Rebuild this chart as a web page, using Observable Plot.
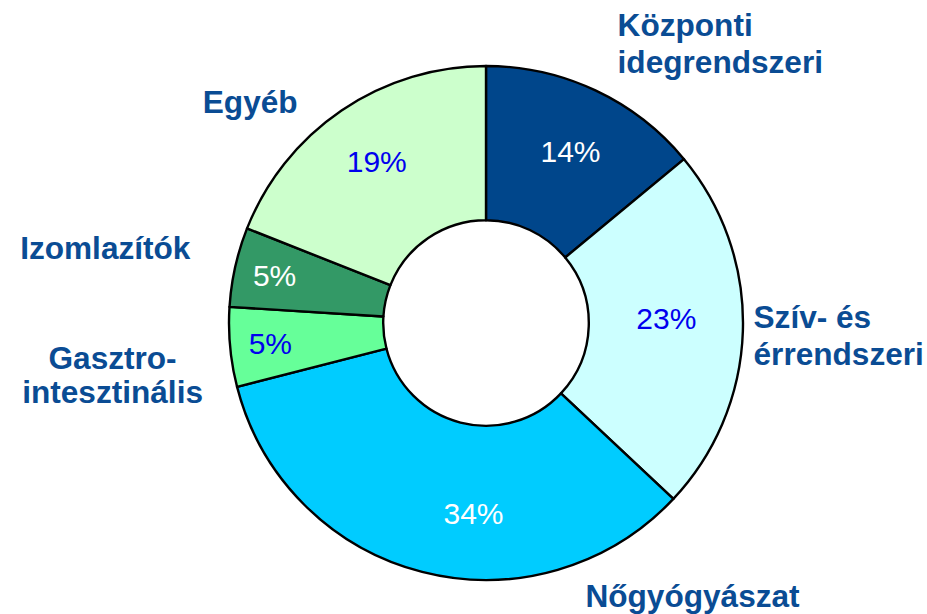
<!DOCTYPE html>
<html>
<head>
<meta charset="utf-8">
<script src="https://cdn.jsdelivr.net/npm/d3@7"></script>
<script src="https://cdn.jsdelivr.net/npm/@observablehq/plot@0.6"></script>
<style>
  html, body { margin: 0; padding: 0; background: #fff; }
</style>
</head>
<body>
<div id="chart"></div>
<script>
// ---- data ----
const categories = ["Központi\nidegrendszeri", "Szív- és\nérrendszeri", "Nőgyógyászat", "Gasztro-\nintesztinális", "Izomlazítók", "Egyéb"];
const shares = [14, 23, 34, 5, 5, 19];
const sliceColors = ["#00468B", "#CCFFFF", "#00CCFF", "#66FF99", "#339966", "#CCFFCC"];
const percentColors = ["#FFFFFF", "#0000EE", "#FFFFFF", "#0000EE", "#FFFFFF", "#0000EE"];

// ---- layout (chart units: outer radius = 1) ----
const innerRatio = 0.4;
const pctRadius = [0.74, 0.70, 0.745, 0.845, 0.845, 0.76];
const pctAngleShift = [1, -3, -10.5, 0, 0, 0]; // degrees
const catAnchor = [
  {x: 0.510, y: 1.093, anchor: "start", lh: 1.2},
  {x: 1.039, y: -0.043, anchor: "start", lh: 1.2},
  {x: 0.385, y: -1.058, anchor: "start", lh: 1.2},
  {x: -1.455, y: -0.200, anchor: "middle", lh: 1.1},
  {x: -1.152, y: 0.296, anchor: "end", lh: 1.2},
  {x: -0.735, y: 0.864, anchor: "end", lh: 1.2}
];

const total = d3.sum(shares);
let acc = 0;
const slices = shares.map((v, i) => {
  const a0 = acc / total * 2 * Math.PI;
  acc += v;
  const a1 = acc / total * 2 * Math.PI;
  const mid = (a0 + a1) / 2 + pctAngleShift[i] * Math.PI / 180;
  return {
    i, value: v, label: categories[i], color: sliceColors[i], textColor: percentColors[i],
    a0, a1,
    px: pctRadius[i] * Math.sin(mid),
    py: pctRadius[i] * Math.cos(mid),
    pct: v + "%",
    cx: catAnchor[i].x, cy: catAnchor[i].y, anchor: catAnchor[i].anchor, lh: catAnchor[i].lh
  };
});

const W = 927, H = 614;
const centerPx = 486, centerPy = 323, Rpx = 257;
const xDomain = [-centerPx / Rpx, (W - centerPx) / Rpx];
const yDomain = [-(H - centerPy) / Rpx, centerPy / Rpx];

function donut(index, scales) {
  const x = scales.x, y = scales.y;
  const cx = x(0), cy = y(0);
  const R = x(1) - x(0);
  const arc = d3.arc().innerRadius(R * innerRatio).outerRadius(R);
  const g = d3.create("svg:g").attr("transform", `translate(${cx},${cy})`);
  g.selectAll("path")
    .data(slices)
    .join("path")
    .attr("d", d => arc({startAngle: d.a0, endAngle: d.a1}))
    .attr("fill", d => d.color)
    .attr("stroke", "#000")
    .attr("stroke-width", 2.4)
    .attr("stroke-linejoin", "round");
  return g.node();
}

const font = "'Liberation Sans', Arial, sans-serif";
const catColor = "#0A4C94";
const catSize = 31.6;

const chart = Plot.plot({
  width: W,
  height: H,
  margin: 0,
  x: {domain: xDomain, axis: null},
  y: {domain: yDomain, axis: null},
  style: {fontFamily: font, background: "#fff"},
  marks: [
    donut,
    Plot.text(slices, {
      x: "px", y: "py", text: "pct", fill: "textColor",
      fontSize: 30, fontFamily: font
    }),
    Plot.text(slices.filter(d => d.lh === 1.2 && d.anchor === "start"), {
      x: "cx", y: "cy", text: "label", textAnchor: "start", lineHeight: 1.18,
      fill: catColor, fontSize: catSize, fontWeight: "bold", fontFamily: font
    }),
    Plot.text(slices.filter(d => d.lh === 1.2 && d.anchor === "end"), {
      x: "cx", y: "cy", text: "label", textAnchor: "end", lineHeight: 1.18,
      fill: catColor, fontSize: catSize, fontWeight: "bold", fontFamily: font
    }),
    Plot.text(slices.filter(d => d.anchor === "middle"), {
      x: "cx", y: "cy", text: "label", textAnchor: "middle", lineHeight: 1.09,
      fill: catColor, fontSize: catSize, fontWeight: "bold", fontFamily: font
    })
  ]
});

document.getElementById("chart").appendChild(chart);
</script>
</body>
</html>
